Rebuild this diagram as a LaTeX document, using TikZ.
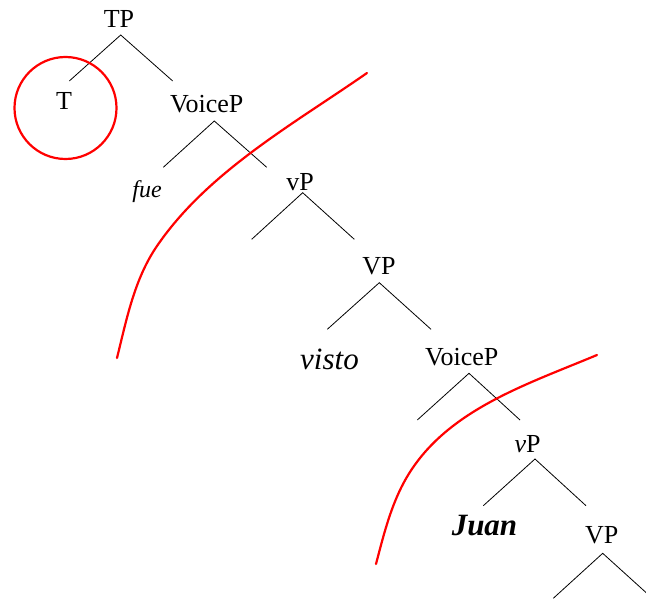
\documentclass[tikz,border=0pt]{standalone}
\usepackage{fontspec}
\setmainfont{Liberation Serif}
\begin{document}
\begin{tikzpicture}[x=1pt,y=-1pt,
  lab/.style={anchor=base,inner sep=0pt,font=\fontsize{26}{30}\selectfont},
  small/.style={anchor=base,inner sep=0pt,font=\fontsize{24}{28}\selectfont\itshape},
  big/.style={anchor=base,inner sep=0pt,font=\fontsize{31}{36}\selectfont\itshape},
  branch/.style={draw=black,line width=0.8pt},
  redline/.style={draw=red,line width=2.2pt,line cap=round}]
\useasboundingbox (0,0) rectangle (646,599);
\clip (0,0) rectangle (646,599);

% labels
\node[lab] (tp) at (119,28) {TP};
\node[lab] (t) at (64,110) {T};
\node[lab] (voicep1) at (206.7,113) {VoiceP};
\node[small] (fue) at (147,198) {fue};
\node[lab] (vp1) at (300,191) {vP};
\node[lab] (VP1) at (379,275) {VP};
\node[big] (visto) at (329.5,369) {visto};
\node[lab] (voicep2) at (461.7,365) {VoiceP};
\node[lab] (vp2) at (527.5,452) {\textit{v}P};
\node[big] (juan) at (484.5,535) {\bfseries Juan};
\node[lab] (VP3) at (601.7,543) {VP};

% branch points
\coordinate (aTP) at (120.7,35);   \coordinate (lTP) at (69.3,81);   \coordinate (rTP) at (172.7,81);
\coordinate (aV1) at (214.3,121);  \coordinate (lV1) at (163.3,167.3); \coordinate (rV1) at (266.7,167.3);
\coordinate (av1) at (302.7,192.7); \coordinate (lv1) at (251.7,239.3); \coordinate (rv1) at (354.3,239.3);
\coordinate (aVP1) at (379.3,282.7); \coordinate (lVP1) at (327.3,329.3); \coordinate (rVP1) at (431,329.3);
\coordinate (aV2) at (469,373.3);  \coordinate (lV2) at (417.3,420);  \coordinate (rV2) at (520,420);
\coordinate (av2) at (535,459);    \coordinate (lv2) at (483.3,505.7); \coordinate (rv2) at (586,505.7);
\coordinate (aVP3) at (602.7,553.3); \coordinate (lVP3) at (553.3,598.3); \coordinate (rVP3) at (662,607);

\draw[branch] (lTP) -- (aTP) -- (rTP);
\draw[branch] (lV1) -- (aV1) -- (rV1);
\draw[branch] (lv1) -- (av1) -- (rv1);
\draw[branch] (lVP1) -- (aVP1) -- (rVP1);
\draw[branch] (lV2) -- (aV2) -- (rV2);
\draw[branch] (lv2) -- (av2) -- (rv2);
\draw[branch] (lVP3) -- (aVP3) -- (rVP3);

% red marks
\node[draw=red,line width=2.2pt,circle,minimum size=102pt,inner sep=0pt] (circ) at (65.5,108) {};
\draw[redline] (117,358) .. controls (126.6,319.2) and (134.4,279) .. (157,246)
  .. controls (207.8,171.7) and (293.2,124.3) .. (367,73);
\draw[redline] (376,564) .. controls (384.4,532.1) and (392.2,499.8) .. (410,472)
  .. controls (450.4,408.8) and (527.8,384) .. (597,355);
\end{tikzpicture}
\end{document}
